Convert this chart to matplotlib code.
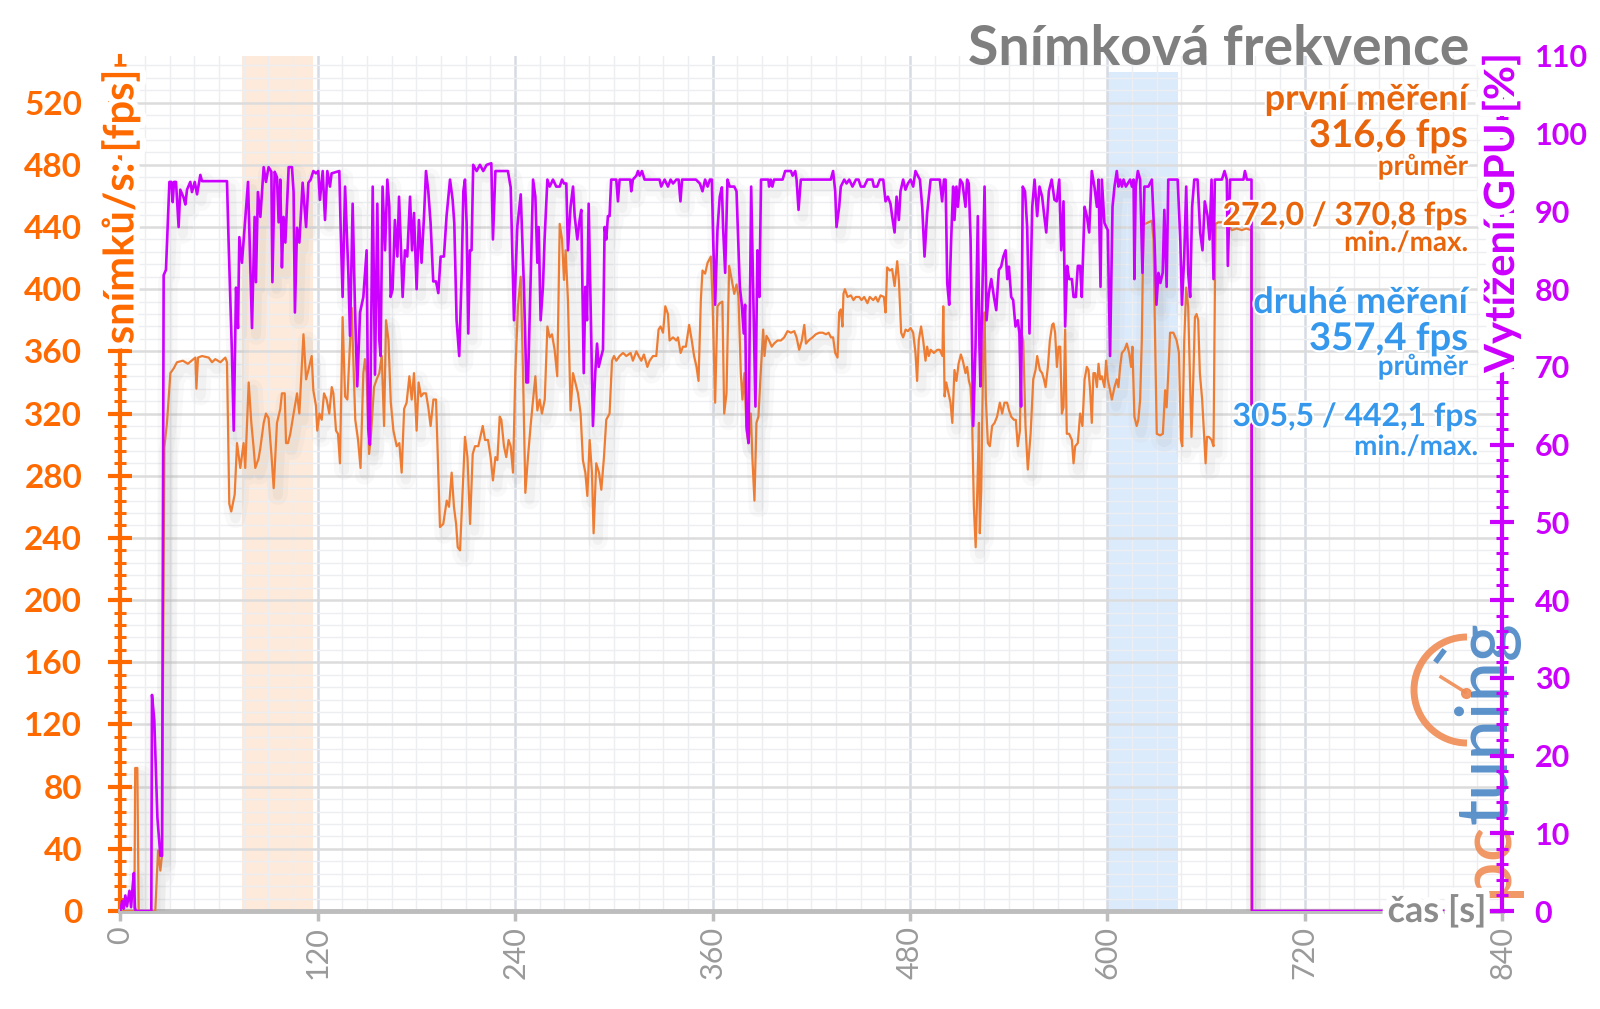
import matplotlib
matplotlib.use("Agg")
import matplotlib.pyplot as plt
import matplotlib.patheffects as pe
from matplotlib.patches import Arc
from matplotlib.ticker import MultipleLocator

# ============================================================
# 1. Data (time [s], value)
# ============================================================

# frame rate, left axis [fps]
fps_points = [
    (0, 0), (8.5, 0), (9.0, 92), (10.3, 92), (11.1, 0), (21.2, 0), (22.9, 39), (24.3, 26), (25.3, 36),
    (26.7, 298), (28.3, 314), (30.4, 346), (32.4, 349), (34.4, 353), (38.0, 354), (41.0, 352), (45.6, 356),
    (46.2, 336), (47.2, 356), (49.6, 357), (53.7, 356), (55.7, 353), (57.7, 355), (60.8, 353), (63.8, 356),
    (64.8, 353), (66.2, 262), (67.4, 257), (69.5, 268), (70.9, 301), (72.9, 285), (74.9, 301), (75.9, 285),
    (78.0, 340), (79.6, 314), (81.0, 298), (82.0, 285), (84.0, 291), (85.1, 298), (87.1, 314), (88.5, 320),
    (90.1, 317), (91.8, 294), (93.2, 272), (95.2, 314), (97.2, 323), (98.2, 333), (99.9, 333), (100.7, 301),
    (101.9, 301), (103.3, 307), (105.3, 320), (107.4, 333), (108.8, 320), (111.3, 371), (112.9, 342),
    (114.3, 348), (116.3, 357), (117.3, 335), (118.9, 325), (119.7, 309), (121.0, 320), (122.4, 316),
    (123.8, 333), (125.4, 329), (127.0, 320), (128.5, 337), (129.5, 333), (131.1, 309), (132.3, 307),
    (133.5, 288), (135.1, 382), (136.6, 331), (138.0, 329), (140.6, 388), (142.8, 316), (144.5, 303),
    (146.0, 285), (147.7, 346), (148.7, 355), (149.7, 346), (151.2, 294), (152.4, 307), (154.2, 337),
    (155.8, 342), (157.4, 346), (158.9, 357), (160.3, 312), (161.5, 380), (163.0, 367), (164.4, 327),
    (166.0, 309), (168.0, 299), (169.6, 301), (171.0, 282), (172.5, 323), (174.0, 327), (175.7, 344),
    (177.1, 329), (178.5, 346), (180.1, 309), (181.3, 340), (182.8, 331), (184.2, 333), (185.8, 333),
    (187.2, 324), (188.6, 312), (190.3, 329), (191.9, 329), (194.3, 247), (196.3, 249), (198.4, 264),
    (199.8, 260), (201.4, 282), (202.8, 260), (204.1, 249), (205.1, 234), (206.5, 232), (208.1, 271),
    (209.5, 305), (211.0, 292), (212.6, 249), (214.2, 294), (215.6, 299), (217.6, 299), (220.3, 312),
    (221.7, 303), (223.5, 303), (225.1, 292), (226.5, 277), (228.0, 292), (229.2, 290), (230.6, 318),
    (231.6, 316), (233.2, 299), (234.6, 292), (236.0, 303), (237.3, 299), (238.7, 282), (240.1, 346),
    (241.7, 389), (243.4, 408), (244.8, 346), (246.2, 269), (247.8, 292), (249.4, 312), (250.9, 329),
    (252.3, 344), (253.5, 322), (254.9, 329), (256.3, 320), (258.0, 329), (259.6, 376), (261.0, 369),
    (262.4, 371), (264.0, 361), (265.6, 344), (267.1, 442), (268.5, 432), (269.7, 406), (270.7, 425),
    (272.1, 393), (273.7, 322), (275.2, 346), (276.6, 340), (278.2, 333), (279.8, 320), (281.2, 290),
    (282.7, 282), (283.9, 267), (285.3, 303), (286.7, 282), (287.7, 243), (289.3, 288), (291.0, 282),
    (292.4, 271), (294.0, 292), (295.4, 316), (297.4, 320), (298.9, 354), (300.1, 357), (301.5, 354),
    (303.5, 357), (305.6, 359), (307.6, 357), (310.2, 359), (311.6, 354), (313.7, 360), (315.1, 357),
    (316.7, 354), (318.3, 358), (320.4, 350), (321.8, 354), (323.8, 357), (325.8, 357), (327.2, 374),
    (328.4, 376), (329.9, 372), (331.3, 389), (332.9, 384), (333.9, 367), (336.0, 369), (338.0, 367),
    (339.0, 369), (340.6, 359), (342.0, 363), (343.8, 363), (345.8, 377), (347.4, 367), (348.8, 357),
    (350.3, 350), (351.5, 341), (352.9, 393), (353.9, 412), (355.5, 410), (357.0, 417), (359.0, 421),
    (360.0, 393), (361.6, 327), (363.0, 389), (364.4, 391), (366.0, 392), (367.1, 320), (368.5, 333),
    (370.1, 415), (371.7, 406), (373.2, 397), (374.6, 403), (375.8, 395), (377.2, 346), (378.2, 329),
    (379.4, 346), (380.7, 309), (381.9, 301), (383.3, 320), (384.3, 290), (385.5, 264), (386.7, 314),
    (387.9, 318), (389.4, 348), (390.8, 374), (391.6, 357), (392.8, 370), (394.4, 367), (396.0, 363),
    (397.4, 365), (399.5, 367), (401.6, 367), (403.6, 369), (405.6, 373), (407.7, 372), (409.7, 373),
    (411.1, 369), (412.7, 361), (414.3, 367), (415.8, 377), (416.8, 365), (418.4, 367), (420.8, 369),
    (422.8, 371), (424.9, 372), (427.0, 372), (429.0, 371), (430.6, 372), (432.0, 369), (433.3, 369),
    (434.6, 359), (436.0, 356), (437.0, 385), (438.0, 387), (439.0, 376), (439.6, 397), (440.5, 400),
    (442.1, 395), (444.1, 396), (445.7, 393), (447.1, 395), (449.2, 395), (450.6, 393), (452.2, 395),
    (454.2, 391), (455.6, 395), (457.7, 393), (459.2, 395), (460.6, 392), (462.2, 396), (464.2, 395),
    (465.2, 385), (466.2, 414), (467.8, 412), (469.2, 413), (470.7, 402), (472.3, 418), (473.3, 406),
    (474.7, 372), (475.9, 369), (477.4, 374), (478.8, 373), (480.4, 375), (482.0, 372), (483.4, 359),
    (484.4, 341), (485.4, 367), (486.8, 376), (488.1, 367), (489.5, 354), (490.5, 363), (491.5, 357),
    (492.6, 361), (494.6, 359), (496.7, 361), (498.2, 361), (499.8, 357), (500.3, 389), (501.1, 331),
    (502.1, 340), (503.5, 333), (504.7, 327), (505.8, 314), (507.1, 348), (508.3, 341), (509.6, 352),
    (511.0, 358), (512.2, 354), (513.8, 346), (514.8, 350), (515.9, 341), (516.9, 337), (517.9, 312),
    (518.9, 260), (520.0, 234), (521.0, 271), (522.0, 314), (522.5, 243), (523.4, 271), (524.6, 363),
    (525.4, 385), (526.2, 329), (527.4, 301), (528.6, 299), (530.0, 312), (531.5, 314), (533.0, 318),
    (534.7, 327), (536.1, 320), (537.5, 327), (539.1, 327), (540.3, 322), (541.6, 318), (543.2, 316),
    (544.4, 316), (545.6, 299), (546.9, 309), (547.7, 372), (548.9, 367), (550.3, 312), (551.7, 284),
    (553.4, 307), (555.0, 342), (556.4, 348), (557.4, 357), (559.0, 348), (560.4, 346), (561.5, 342),
    (562.5, 337), (563.9, 350), (565.1, 367), (566.5, 377), (567.3, 378), (568.3, 372), (569.4, 350),
    (570.4, 363), (571.4, 363), (572.4, 320), (573.4, 324), (574.4, 374), (575.4, 307), (576.8, 307),
    (578.5, 303), (579.5, 288), (580.5, 299), (582.1, 301), (583.5, 320), (584.9, 312), (586.2, 342),
    (587.6, 350), (588.6, 348), (589.6, 335), (590.6, 314), (591.6, 346), (592.6, 346), (593.7, 337),
    (594.7, 352), (595.7, 342), (596.7, 344), (598.3, 337), (599.3, 354), (600.3, 342), (601.7, 335),
    (602.8, 329), (604.4, 337), (605.8, 342), (606.8, 337), (607.8, 350), (608.9, 359), (610.5, 361),
    (611.9, 365), (613.3, 359), (614.5, 350), (615.3, 363), (616.5, 318), (617.9, 312), (618.9, 316),
    (620.0, 329), (621.0, 367), (622.0, 442), (623.0, 442), (625.0, 443), (627.1, 444), (628.1, 432),
    (629.1, 367), (630.1, 307), (632.1, 306), (633.8, 307), (635.2, 335), (636.1, 324), (637.1, 346),
    (638.2, 372), (640.2, 372), (642.2, 367), (643.6, 359), (644.8, 303), (645.6, 299), (646.8, 367),
    (648.0, 401), (649.2, 389), (650.2, 346), (651.2, 305), (652.3, 342), (653.3, 382), (654.3, 384),
    (655.3, 380), (656.3, 346), (657.7, 329), (659.0, 303), (659.8, 288), (660.6, 305), (661.8, 305),
    (663.4, 303), (664.6, 299), (665.8, 442), (667.5, 443), (669.5, 443), (671.5, 443), (673.1, 443),
    (675.7, 438), (678.7, 439), (681.8, 438), (684.5, 439), (687.5, 438), (687.8, 0), (840, 0),
]

# GPU load, right axis [%]
gpu_points = [
    (0, 0), (1.0, 1.3), (2.0, 0.3), (3.0, 2.0), (4.0, 0.6), (5.5, 2.6), (6.5, 0.5), (7.5, 3.3),
    (8.2, 4.9), (8.8, 0.5), (9.3, 0), (18.8, 0), (19.2, 27.8), (20.6, 24.6), (22.5, 12.0), (24.3, 7.1),
    (25.3, 7.1), (26.3, 81.8), (27.7, 82.5), (29.8, 93.8), (31.0, 93.8), (31.8, 91.2), (32.6, 93.8),
    (33.8, 93.8), (35.4, 88.0), (36.4, 92.8), (38.4, 91.8), (39.5, 90.9), (40.5, 92.8), (42.5, 93.8),
    (43.5, 92.5), (45.2, 93.8), (46.6, 92.2), (48.6, 94.7), (49.6, 93.9), (64.8, 93.9), (65.8, 86.0),
    (67.8, 71.8), (68.9, 61.8), (70.3, 80.2), (71.5, 75.0), (72.3, 86.7), (73.9, 83.4), (77.6, 93.8),
    (80.0, 75.0), (81.6, 89.3), (82.4, 80.9), (83.6, 92.5), (85.1, 89.3), (87.1, 95.7), (88.5, 93.8),
    (90.1, 95.7), (91.8, 95.1), (92.4, 80.9), (93.8, 95.1), (95.2, 94.4), (96.2, 88.6), (97.2, 94.1),
    (98.2, 82.8), (99.2, 89.3), (100.3, 86.0), (102.3, 95.7), (104.3, 95.7), (105.3, 92.5), (106.1, 77.0),
    (107.4, 87.9), (108.8, 86.0), (110.8, 93.7), (112.9, 88.0), (114.3, 93.7), (115.7, 94.1),
    (117.3, 95.2), (118.9, 94.9), (120.3, 95.2), (121.3, 91.5), (123.0, 95.2), (124.4, 88.9),
    (125.8, 95.2), (127.4, 93.2), (128.4, 94.9), (133.1, 95.2), (133.9, 88.0), (135.1, 79.0),
    (136.6, 93.2), (138.6, 82.0), (139.6, 74.0), (141.2, 91.0), (142.6, 77.8), (144.0, 67.5),
    (145.7, 77.0), (147.7, 79.0), (149.7, 85.0), (150.7, 62.0), (151.7, 60.0), (153.4, 93.2),
    (154.8, 69.0), (156.2, 91.0), (157.4, 73.5), (158.2, 71.4), (159.4, 93.2), (160.9, 85.0),
    (162.3, 94.1), (163.5, 90.6), (164.3, 79.0), (165.5, 80.0), (166.9, 88.9), (168.4, 84.2),
    (169.4, 91.9), (170.4, 86.4), (171.6, 79.0), (173.0, 85.0), (174.4, 84.2), (176.1, 91.9),
    (177.3, 85.0), (178.5, 89.8), (180.1, 80.0), (181.5, 88.9), (183.1, 83.4), (184.6, 89.4),
    (185.8, 95.2), (187.2, 92.6), (188.6, 88.5), (190.2, 81.0), (191.9, 81.0), (193.3, 79.5),
    (194.7, 84.2), (196.7, 84.2), (198.3, 89.4), (200.4, 94.1), (202.0, 91.5), (203.0, 88.5),
    (204.4, 76.0), (206.0, 71.4), (207.5, 82.1), (208.5, 92.6), (209.5, 94.1), (210.5, 88.5),
    (211.5, 74.3), (212.5, 85.0), (213.5, 85.0), (214.5, 96.0), (216.6, 95.2), (218.6, 96.0),
    (220.6, 95.2), (222.7, 96.0), (225.5, 96.2), (226.5, 86.4), (228.0, 95.2), (235.6, 95.2),
    (237.3, 93.1), (239.3, 76.0), (241.3, 88.0), (243.4, 92.2), (245.4, 79.9), (246.8, 68.0),
    (247.8, 68.0), (249.4, 81.0), (250.9, 94.1), (252.3, 91.9), (253.5, 83.4), (254.3, 88.0),
    (255.5, 76.0), (256.9, 80.3), (257.9, 86.4), (259.6, 94.1), (261.0, 93.2), (263.0, 94.1),
    (265.0, 93.2), (267.1, 93.2), (268.5, 94.1), (269.7, 93.6), (271.1, 93.6), (272.1, 85.0),
    (273.7, 90.6), (275.2, 93.2), (276.2, 89.4), (277.8, 86.4), (279.2, 88.9), (280.2, 90.2),
    (281.7, 69.2), (282.7, 80.3), (283.7, 76.0), (284.7, 91.0), (286.3, 73.5), (287.3, 62.4),
    (288.7, 69.2), (289.8, 73.0), (290.8, 70.0), (292.4, 71.4), (293.4, 72.2), (294.4, 88.0),
    (295.4, 86.4), (296.4, 89.4), (297.4, 89.4), (298.4, 94.1), (301.5, 94.1), (302.5, 91.3),
    (303.5, 94.1), (310.0, 94.1), (310.6, 92.6), (311.6, 94.1), (313.7, 94.6), (314.7, 95.2),
    (315.7, 94.6), (317.1, 95.2), (318.7, 94.1), (327.8, 94.1), (328.8, 93.2), (330.9, 94.1),
    (332.9, 93.2), (334.5, 94.1), (336.0, 93.6), (338.0, 94.1), (339.4, 94.1), (340.5, 91.3),
    (341.5, 94.1), (349.9, 94.1), (352.3, 93.6), (353.9, 92.6), (355.5, 94.1), (357.0, 93.2),
    (358.4, 94.1), (359.6, 94.1), (360.4, 86.4), (361.6, 78.0), (363.0, 87.6), (364.4, 91.9),
    (365.7, 93.1), (366.5, 87.6), (367.7, 82.1), (369.1, 94.1), (370.5, 93.2), (373.2, 93.2),
    (374.6, 92.6), (375.8, 85.0), (376.6, 80.3), (377.8, 78.0), (379.0, 74.3), (379.8, 78.0),
    (380.7, 62.4), (381.9, 60.2), (383.5, 93.2), (384.9, 77.8), (386.1, 64.9), (387.3, 85.0),
    (388.5, 79.0), (389.5, 94.1), (394.0, 94.1), (394.4, 93.2), (395.4, 94.1), (396.4, 93.2),
    (397.4, 94.1), (402.6, 94.1), (404.2, 95.2), (407.7, 95.2), (408.7, 94.6), (410.3, 95.2),
    (411.1, 94.1), (412.3, 90.2), (413.7, 94.1), (431.9, 94.1), (433.3, 95.2), (434.6, 92.6),
    (435.4, 88.0), (437.0, 90.6), (438.0, 93.2), (440.1, 94.1), (441.5, 93.6), (443.1, 94.1),
    (445.1, 93.2), (447.2, 94.1), (448.8, 94.1), (450.2, 93.2), (452.2, 93.2), (454.2, 94.1),
    (457.2, 94.1), (458.1, 93.2), (460.1, 93.2), (461.7, 94.1), (463.8, 94.1), (465.2, 91.3),
    (466.6, 91.9), (468.2, 91.0), (469.2, 89.4), (470.7, 87.3), (471.9, 91.9), (473.3, 88.9),
    (474.3, 92.6), (475.9, 94.1), (477.3, 92.8), (478.8, 93.6), (480.4, 94.1), (482.0, 93.2),
    (483.4, 95.2), (484.8, 94.6), (486.1, 94.1), (487.5, 90.6), (488.9, 84.2), (490.5, 89.8),
    (492.6, 94.1), (498.2, 94.1), (499.6, 91.3), (500.7, 94.1), (501.7, 94.1), (502.7, 80.8),
    (503.9, 78.0), (505.1, 86.4), (506.3, 93.2), (507.1, 88.9), (508.3, 93.2), (509.2, 90.6),
    (510.6, 94.1), (512.0, 93.6), (513.8, 90.6), (514.8, 94.1), (515.8, 93.6), (516.9, 86.4),
    (518.5, 62.4), (519.9, 72.6), (521.3, 89.4), (522.3, 72.6), (522.9, 67.5), (523.9, 77.8),
    (525.4, 93.2), (526.6, 76.0), (528.0, 79.5), (529.5, 81.3), (531.1, 79.0), (532.5, 77.3),
    (534.1, 82.5), (535.5, 82.9), (536.8, 84.2), (538.2, 85.0), (539.2, 81.3), (540.2, 82.9),
    (541.6, 79.0), (542.8, 78.6), (544.2, 75.2), (545.6, 76.0), (546.6, 74.3), (547.6, 64.9),
    (548.6, 93.2), (550.0, 92.6), (551.3, 88.0), (552.7, 74.3), (554.4, 90.6), (555.8, 94.1),
    (557.4, 89.4), (558.8, 93.2), (560.4, 91.9), (561.5, 89.8), (562.9, 87.3), (564.5, 92.6),
    (566.2, 94.1), (567.9, 91.5), (569.3, 91.3), (570.8, 94.1), (572.0, 85.0), (573.4, 91.3),
    (574.4, 75.2), (575.6, 83.0), (576.8, 81.3), (578.5, 81.3), (579.5, 79.0), (580.9, 79.0),
    (582.1, 83.0), (583.5, 83.0), (584.5, 79.0), (586.2, 90.6), (587.6, 89.4), (589.0, 87.3),
    (590.6, 95.2), (592.2, 93.2), (593.7, 90.6), (594.7, 94.1), (595.9, 80.3), (596.7, 94.1),
    (598.3, 88.5), (600.3, 87.6), (601.7, 71.4), (603.2, 90.6), (604.4, 93.2), (605.8, 95.2),
    (606.8, 93.2), (607.8, 94.1), (608.9, 93.2), (609.9, 94.1), (611.3, 93.2), (612.5, 93.6),
    (613.9, 94.1), (615.0, 93.2), (616.0, 94.1), (616.5, 81.3), (617.3, 93.2), (618.6, 95.2),
    (620.0, 94.1), (621.4, 82.1), (622.6, 93.2), (625.0, 93.2), (627.1, 94.1), (628.7, 86.4),
    (629.9, 78.0), (631.1, 82.1), (632.3, 80.8), (633.7, 82.1), (634.7, 90.2), (636.1, 80.3),
    (637.1, 94.1), (642.8, 94.1), (644.4, 86.4), (645.4, 78.0), (646.8, 84.2), (648.0, 93.2),
    (649.2, 82.1), (650.4, 79.0), (651.6, 90.6), (652.9, 94.1), (654.9, 94.1), (656.5, 87.3),
    (657.9, 85.0), (659.3, 91.3), (661.0, 89.4), (662.2, 86.4), (663.4, 94.1), (664.6, 81.3),
    (665.4, 94.1), (669.7, 94.1), (671.3, 95.2), (672.7, 94.1), (673.3, 83.0), (674.7, 94.1),
    (682.8, 94.1), (683.7, 95.2), (684.9, 94.1), (687.7, 94.1), (688.0, 0), (840, 0),
]

fps_time = [p[0] for p in fps_points]
fps_values = [p[1] for p in fps_points]
gpu_time = [p[0] for p in gpu_points]
gpu_values = [p[1] for p in gpu_points]

# highlighted measuring windows [s]
first_window = (73.8, 117.3)
second_window = (599.8, 643.3)

time_ticks = list(range(0, 841, 120))
fps_ticks = list(range(0, 521, 40))
gpu_ticks = list(range(0, 111, 10))

first_stats = ["první měření", "316,6 fps", "průměr", "272,0 / 370,8 fps", "min./max."]
second_stats = ["druhé měření", "357,4 fps", "průměr", "305,5 / 442,1 fps", "min./max."]

# ============================================================
# 2. Style
# ============================================================

ORANGE_LINE = "#EE7D33"
ORANGE_AXIS = "#FF6A00"
ORANGE_TEXT = "#E8650C"
PURPLE = "#CC00FF"
BLUE_TEXT = "#3598EC"
GREY_TITLE = "#7F7F7F"
GREY_AXIS = "#BDBDBD"

plt.rcParams["font.family"] = ["Lato", "DejaVu Sans"]

W, H = 1600, 1009


def fx(px):
    return px / W


def fy(py):
    return 1 - py / H


halo = [pe.withStroke(linewidth=9, foreground="white")]
thin_halo = [pe.withStroke(linewidth=3, foreground="white")]
# soft drop shadow under the series
shadow = [
    pe.SimpleLineShadow(offset=(3, -5), shadow_color="#909090", alpha=0.05, linewidth=14),
    pe.SimpleLineShadow(offset=(3, -5), shadow_color="#909090", alpha=0.07, linewidth=7),
    pe.Normal(),
]

# ============================================================
# 3. Chart
# ============================================================

fig = plt.figure(figsize=(16, 10.09), dpi=100)
ax = fig.add_axes([0.07525, 0.0971, 0.8635, 0.8474])
ax2 = ax.twinx()
ax2.set_zorder(1)

ax.axvspan(*first_window, color="#FDEADB", zorder=0.2, lw=0)
ax.axvspan(*second_window, ymax=540 / 550, color="#DCEBFC", zorder=0.2, lw=0)

ax.plot(fps_time, fps_values, color=ORANGE_LINE, lw=1.6, zorder=3, path_effects=shadow)
ax2.plot(gpu_time, gpu_values, color=PURPLE, lw=1.9, zorder=3, path_effects=shadow)

ax.set_xlim(0, 840)
ax.set_ylim(0, 550)
ax2.set_ylim(0, 110)

ax.set_axisbelow(True)
ax.set_xticks(time_ticks)
ax.set_xticklabels([str(t) for t in time_ticks])
ax.xaxis.set_minor_locator(MultipleLocator(15))
ax.set_yticks(fps_ticks)
ax.set_yticklabels([str(v) for v in fps_ticks], fontweight="bold")
ax.yaxis.set_minor_locator(MultipleLocator(8))
ax2.set_yticks(gpu_ticks)
ax2.set_yticklabels([str(v) for v in gpu_ticks], fontweight="bold")
ax2.yaxis.set_minor_locator(MultipleLocator(2))

ax.grid(which="major", axis="x", color="#D6DAE2", lw=1.8)
ax.grid(which="major", axis="y", color="#DCDCDC", lw=1.8)
ax.grid(which="minor", color="#EDEEF1", lw=1.0)

ax.tick_params(axis="x", which="major", direction="out", length=7, width=2.5, color=GREY_AXIS,
               labelsize=22, labelcolor="#9A9A9A", labelrotation=90, pad=4)
ax.tick_params(axis="x", which="minor", length=0)
ax.tick_params(axis="y", which="major", direction="inout", length=17, width=3, color=ORANGE_AXIS,
               labelsize=24, labelcolor=ORANGE_AXIS, pad=19)
ax.tick_params(axis="y", which="minor", direction="inout", length=9, width=2.2, color=ORANGE_AXIS)
ax2.tick_params(axis="y", which="major", direction="inout", length=17, width=3, color=PURPLE,
                labelsize=22, labelcolor=PURPLE, pad=15)
ax2.tick_params(axis="y", which="minor", direction="inout", length=9, width=2.2, color=PURPLE)

for side in ["top", "right"]:
    ax.spines[side].set_visible(False)
for side in ["top", "left", "bottom"]:
    ax2.spines[side].set_visible(False)
ax.spines["left"].set_color(ORANGE_AXIS)
ax.spines["left"].set_linewidth(3)
ax.spines["bottom"].set_color(GREY_AXIS)
ax.spines["bottom"].set_linewidth(3.5)
ax2.spines["right"].set_color(PURPLE)
ax2.spines["right"].set_linewidth(3)

# pctuning watermark
logo = fig.add_axes([0, 0, 1, 1], zorder=0.5)
logo.set_xlim(0, W)
logo.set_ylim(H, 0)
logo.axis("off")
logo.add_patch(Arc((1467, 690), 106, 106, theta1=90, theta2=270, color="#F08C55", lw=5, alpha=0.9))
logo.plot([1441, 1465], [677, 692], color="#F08C55", lw=2.5, alpha=0.9)
logo.plot([1466], [693], "o", color="#F08C55", ms=7, alpha=0.9)
logo.plot([1437, 1443], [660, 652], color="#4A86C5", lw=4, alpha=0.9)
logo.text(1487, 897, "pc", rotation=90, ha="center", va="bottom", fontsize=52,
          fontweight="medium", color="#F08C55", alpha=0.9)
logo.text(1487, 824, "tuning", rotation=90, ha="center", va="bottom", fontsize=52,
          fontweight="medium", color="#4A86C5", alpha=0.9)

# axis titles sitting on the spines
fig.text(fx(120.4), fy(207), "snímků/s: [fps]", rotation=90, ha="center", va="center",
         fontsize=30, fontweight="bold", color=ORANGE_AXIS, path_effects=halo, zorder=5)
fig.text(fx(1501), fy(213), "Vytížení GPU [%]", rotation=90, ha="center", va="center",
         fontsize=30, fontweight="bold", color=PURPLE, path_effects=halo, zorder=5)
fig.text(fx(1437), fy(911), "čas [s]", ha="center", va="center", fontsize=26,
         fontweight="bold", color="#8C8C8C", path_effects=halo, zorder=5)

fig.text(fx(1469), fy(65), "Snímková frekvence", ha="right", va="baseline", fontsize=40,
         fontweight="bold", color=GREY_TITLE, zorder=5)

# stats of the two highlighted windows
stat_baselines_1 = [110, 147, 175, 225, 251]
stat_baselines_2 = [313, 350, 375, 426, 455]
stat_sizes = [26, 27.5, 20, 23, 20]
stat_right_2 = [1468, 1468, 1468, 1478, 1478]

for text, base, size in zip(first_stats, stat_baselines_1, stat_sizes):
    fig.text(fx(1468), fy(base), text, ha="right", va="baseline", fontsize=size,
             fontweight="bold", color=ORANGE_TEXT, path_effects=thin_halo, zorder=5)
for text, base, size, right in zip(second_stats, stat_baselines_2, stat_sizes, stat_right_2):
    fig.text(fx(right), fy(base), text, ha="right", va="baseline", fontsize=size,
             fontweight="bold", color=BLUE_TEXT, path_effects=thin_halo, zorder=5)

fig.savefig("out.png", dpi=100)
